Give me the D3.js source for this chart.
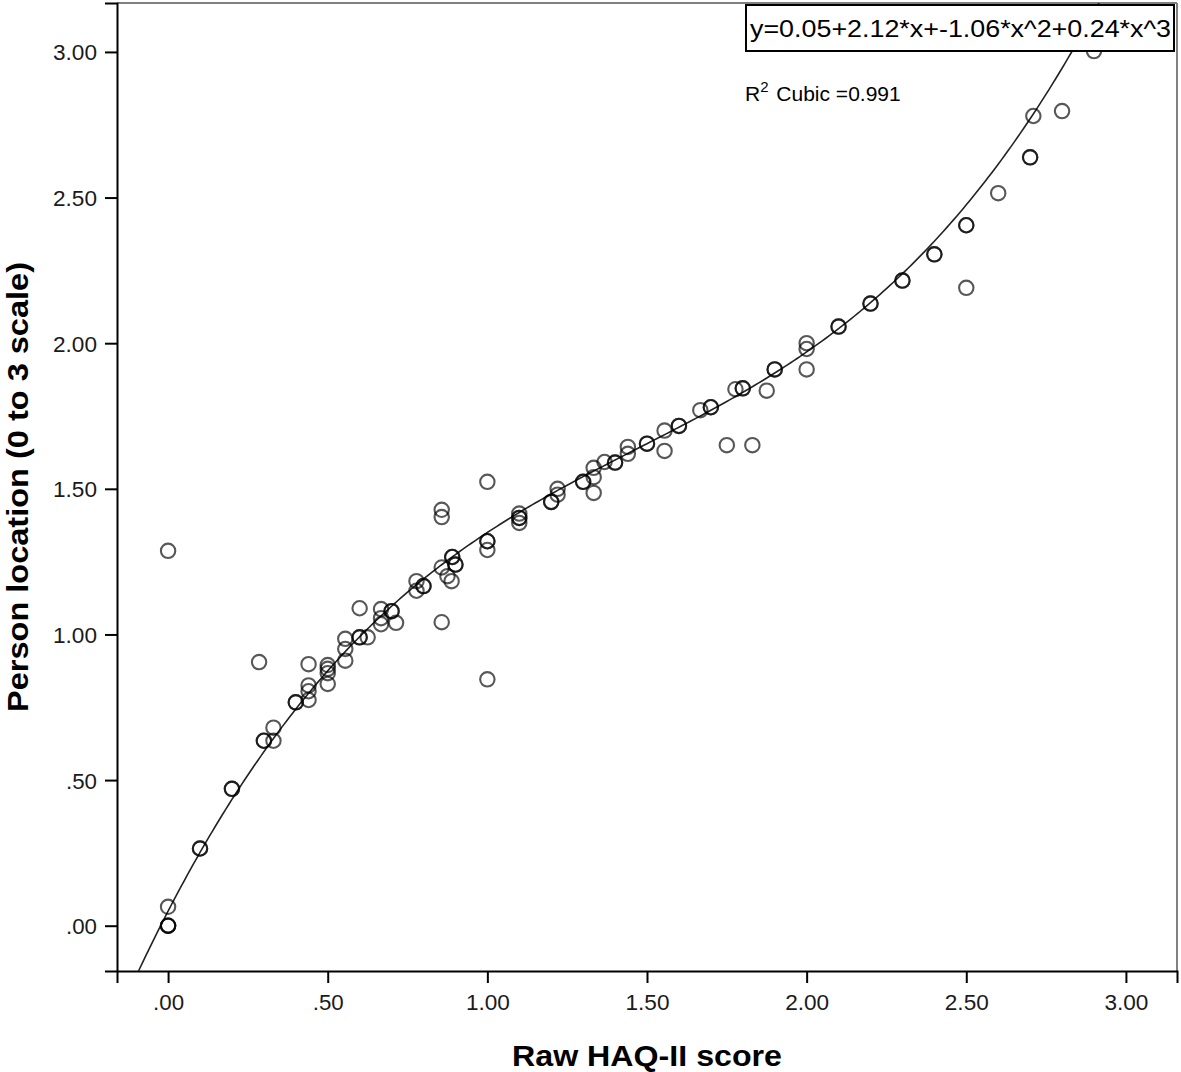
<!DOCTYPE html>
<html>
<head>
<meta charset="utf-8">
<script src="https://cdn.jsdelivr.net/npm/d3@7"></script>
<style>
  body { margin: 0; background: #fff; }
  svg { display: block; font-family: Arial, "Liberation Sans", sans-serif; }
</style>
</head>
<body>
<svg id="chart" width="1181" height="1072"></svg>
<script>
// raw HAQ-II score (x) and person location (y); repeated pairs are overlapping cases
const haqScore = [
  0, 0, 0, 0, 0,
  0.1, 0.1, 0.2, 0.2, 0.285, 0.3, 0.3, 0.33, 0.33, 0.4, 0.4,
  0.44, 0.44, 0.44, 0.44, 0.5, 0.5, 0.5, 0.5, 0.555, 0.555, 0.555,
  0.6, 0.6, 0.6, 0.625, 0.667, 0.667, 0.667, 0.7, 0.7, 0.714,
  0.778, 0.778, 0.8, 0.8, 0.857, 0.857, 0.857, 0.857, 0.875, 0.888, 0.89, 0.89, 0.9, 0.9,
  1.0, 1.0, 1.0, 1.0, 1.0, 1.1, 1.1, 1.1, 1.1, 1.2, 1.2, 1.22, 1.22,
  1.3, 1.3, 1.333, 1.333, 1.333, 1.367, 1.4, 1.4, 1.44, 1.44, 1.5, 1.5,
  1.555, 1.555, 1.6, 1.6, 1.667, 1.7, 1.7, 1.75, 1.777, 1.8, 1.8, 1.83, 1.875,
  1.9, 1.9, 2.0, 2.0, 2.0, 2.1, 2.1, 2.2, 2.2, 2.3, 2.3, 2.4, 2.4,
  2.5, 2.5, 2.5, 2.6, 2.7, 2.7, 2.71, 2.8, 2.9
];
const personLoc = [
  0, 0, 0, 0.065, 1.287,
  0.265, 0.265, 0.47, 0.47, 0.905, 0.635, 0.635, 0.68, 0.635, 0.767, 0.767,
  0.898, 0.825, 0.805, 0.775, 0.895, 0.882, 0.867, 0.83, 0.985, 0.95, 0.91,
  1.09, 0.99, 0.99, 0.99, 1.087, 1.056, 1.035, 1.08, 1.08, 1.04,
  1.183, 1.15, 1.166, 1.166, 1.428, 1.403, 1.042, 1.23, 1.2, 1.183, 1.266, 1.266, 1.24, 1.24,
  1.524, 1.32, 1.32, 1.29, 0.846, 1.4, 1.4, 1.383, 1.415, 1.455, 1.455, 1.5, 1.48,
  1.524, 1.524, 1.572, 1.54, 1.486, 1.592, 1.59, 1.59, 1.644, 1.62, 1.655, 1.655,
  1.7, 1.63, 1.716, 1.716, 1.77, 1.78, 1.78, 1.65, 1.842, 1.845, 1.845, 1.65, 1.837,
  1.91, 1.91, 2.0, 1.98, 1.91, 2.057, 2.057, 2.136, 2.136, 2.215, 2.215, 2.305, 2.305,
  2.405, 2.405, 2.19, 2.515, 2.638, 2.638, 2.78, 2.797, 3.003
];
const xTicks = [0, 0.5, 1, 1.5, 2, 2.5, 3];
const yTicks = [0, 0.5, 1, 1.5, 2, 2.5, 3];
const coef = [0.05, 2.12, -1.06, 0.24];
const equation = "y=0.05+2.12*x+-1.06*x^2+0.24*x^3";
const r2Label = "0.991";

// SPSS style: leading zero dropped below 1
const fmt = v => v < 1 ? d3.format(".2f")(v).replace(/^0/, "") : d3.format(".2f")(v);

const svg = d3.select("#chart");
const pLeft = 117, pRight = 1177, pTop = 3, pBottom = 971;

const x = d3.scaleLinear().domain([-0.16, 3.16]).range([pLeft, pRight]);
const y = d3.scaleLinear().domain([-0.1555, 3.168]).range([pBottom, pTop]);

svg.append("clipPath").attr("id", "plot")
  .append("rect").attr("x", pLeft).attr("y", pTop)
  .attr("width", pRight - pLeft).attr("height", pBottom - pTop);

// frame: top and right are grey, axes black
svg.append("line").attr("x1", pLeft).attr("x2", pRight).attr("y1", pTop).attr("y2", pTop)
  .attr("stroke", "#808080").attr("stroke-width", 2);
svg.append("line").attr("x1", pRight).attr("x2", pRight).attr("y1", pTop).attr("y2", pBottom)
  .attr("stroke", "#808080").attr("stroke-width", 2);

const xAxis = svg.append("g").attr("transform", `translate(0,${pBottom})`)
  .call(d3.axisBottom(x).tickValues(xTicks).tickFormat(fmt).tickSize(12).tickPadding(5));
const yAxis = svg.append("g").attr("transform", `translate(${pLeft},0)`)
  .call(d3.axisLeft(y).tickValues(yTicks).tickFormat(fmt).tickSize(12).tickPadding(8));

[xAxis, yAxis].forEach(g => {
  g.select(".domain").attr("stroke", "#000").attr("stroke-width", 2);
  g.selectAll(".tick line").attr("stroke", "#000").attr("stroke-width", 2);
  g.selectAll(".tick text").attr("fill", "#1a1a1a").style("font-size", "22px")
    .style("font-family", "Arial, 'Liberation Sans', sans-serif")
    .attr("textLength", function () { return this.textContent.length === 4 ? 44 : 31; })
    .attr("lengthAdjust", "spacingAndGlyphs");
});
yAxis.selectAll(".tick text").attr("dy", "0.36em");
xAxis.selectAll(".tick text").attr("dy", "1em");

// fitted cubic
const fit = t => coef[0] + coef[1] * t + coef[2] * t * t + coef[3] * t * t * t;
const curveX = d3.range(-0.16, 3.1601, 0.01);
svg.append("path")
  .datum(curveX)
  .attr("clip-path", "url(#plot)")
  .attr("fill", "none").attr("stroke", "#222").attr("stroke-width", 1.6)
  .attr("d", d3.line().x(d => x(d)).y(d => y(fit(d))));

svg.append("g").attr("clip-path", "url(#plot)")
  .selectAll("circle")
  .data(d3.range(haqScore.length))
  .join("circle")
  .attr("cx", i => x(haqScore[i]))
  .attr("cy", i => y(personLoc[i]))
  .attr("r", 7.2)
  .attr("fill", "none")
  .attr("stroke", "#000")
  .attr("stroke-opacity", 0.66)
  .attr("stroke-width", 2.1);

// equation box
const box = svg.append("g");
box.append("rect").attr("x", 746).attr("y", 5).attr("width", 428).attr("height", 46)
  .attr("fill", "#fff").attr("stroke", "#000").attr("stroke-width", 2);
box.append("text").attr("x", 750).attr("y", 37)
  .style("font-size", "23px").attr("fill", "#000")
  .attr("textLength", 421).attr("lengthAdjust", "spacingAndGlyphs")
  .text(equation);

const r2 = svg.append("text").attr("x", 745).attr("y", 101)
  .style("font-size", "21px").attr("fill", "#000");
r2.append("tspan").text("R");
r2.append("tspan").attr("dy", -9).style("font-size", "15px").text("2");
r2.append("tspan").attr("dy", 9).attr("dx", 2).text(" Cubic =" + r2Label);

// axis titles
svg.append("text").attr("x", 647).attr("y", 1066)
  .attr("text-anchor", "middle").style("font-size", "30px").style("font-weight", "bold")
  .attr("textLength", 270).attr("lengthAdjust", "spacingAndGlyphs")
  .text("Raw HAQ-II score");
svg.append("text").attr("transform", "translate(28,487) rotate(-90)")
  .attr("text-anchor", "middle").style("font-size", "30px").style("font-weight", "bold")
  .attr("textLength", 450).attr("lengthAdjust", "spacingAndGlyphs")
  .text("Person location (0 to 3 scale)");
</script>
</body>
</html>
